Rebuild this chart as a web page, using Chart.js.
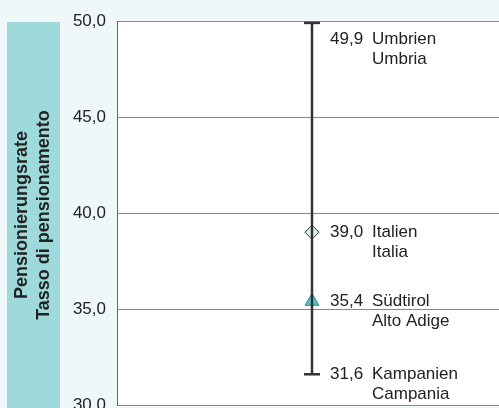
<!DOCTYPE html>
<html lang="de">
  <head>
    <meta charset="UTF-8" />
    <title>Pensionierungsrate</title>
    <script src="https://cdn.jsdelivr.net/npm/chart.js"></script>
    <style>
      html, body {
        margin: 0;
        padding: 0;
        background: #eff8f8;
      }
      #wrap {
        width: 499px;
        height: 408px;
      }
    </style>
  </head>
  <body>
    <div id="wrap"><canvas id="rateChart"></canvas></div>

    <script>
      // data
      const names = [['Umbrien', 'Umbria'], ['Italien', 'Italia'], ['Südtirol', 'Alto Adige'], ['Kampanien', 'Campania']];
      const values = [49.9, 39.0, 35.4, 31.6];
      const yTicks = [30, 35, 40, 45, 50];
      const axisTitle = ['Pensionierungsrate', 'Tasso di pensionamento'];

      const fmt = v => v.toFixed(1).replace('.', ',');
      const FONT = '"Liberation Sans", Arial, sans-serif';

      const backdrop = {
        id: 'backdrop',
        beforeDraw(chart) {
          const { ctx, chartArea: a } = chart;
          ctx.save();
          ctx.fillStyle = '#ffffff';
          ctx.fillRect(a.left, a.top, a.right - a.left, a.bottom - a.top);
          // teal title band
          ctx.fillStyle = '#9ed9dc';
          ctx.fillRect(7, 22, 53, chart.height - 22);
          ctx.translate(33, 215);
          ctx.rotate(-Math.PI / 2);
          ctx.fillStyle = '#222';
          ctx.font = 'bold 18px ' + FONT;
          ctx.textAlign = 'center';
          ctx.textBaseline = 'middle';
          ctx.fillText(axisTitle[0], 0, -11);
          ctx.fillText(axisTitle[1], 0, 11);
          ctx.restore();
        }
      };

      const pointLabels = {
        id: 'pointLabels',
        afterDatasetsDraw(chart) {
          const { ctx, chartArea: a, scales } = chart;
          ctx.save();
          ctx.fillStyle = '#222';
          ctx.font = '17px ' + FONT;
          ctx.textBaseline = 'middle';
          values.forEach((v, i) => {
            const x = scales.x.getPixelForValue(0);
            let y = scales.y.getPixelForValue(v);
            y = Math.max(y, a.top + 18);
            y = Math.min(y, a.bottom - 26);
            ctx.textAlign = 'left';
            ctx.fillText(fmt(v), x + 18, y);
            ctx.fillText(names[i][0], x + 60, y);
            ctx.fillText(names[i][1], x + 60, y + 20);
          });
          ctx.restore();
        }
      };

      const lo = Math.min(...values), hi = Math.max(...values);

      new Chart(document.getElementById('rateChart'), {
        type: 'scatter',
        data: {
          datasets: [
            {
              // range line with caps
              data: [{ x: 0, y: hi }, { x: 0, y: lo }],
              showLine: true,
              borderColor: '#333',
              borderWidth: 2.5,
              pointStyle: 'line',
              pointRadius: 8,
              pointBorderWidth: 2.5,
              pointBorderColor: '#333'
            },
            {
              data: [{ x: 0, y: values[1] }],
              pointStyle: 'rectRot',
              pointRadius: 7,
              backgroundColor: '#d6f1f1',
              borderColor: '#333',
              borderWidth: 1
            },
            {
              data: [{ x: 0, y: values[2] }],
              pointStyle: 'triangle',
              pointRadius: 8,
              backgroundColor: '#5bc3c8',
              borderColor: '#2f8f94',
              borderWidth: 1
            }
          ]
        },
        options: {
          responsive: true,
          maintainAspectRatio: false,
          animation: false,
          layout: { autoPadding: false, padding: { top: 21, right: 0, bottom: 3, left: 0 } },
          plugins: { legend: { display: false }, tooltip: { enabled: false } },
          scales: {
            x: {
              type: 'linear',
              min: -1,
              max: 0.959,
              display: false
            },
            y: {
              min: 30,
              max: 50,
              afterBuildTicks(scale) {
                scale.ticks = yTicks.map(v => ({ value: v }));
              },
              afterFit(scale) {
                scale.width = 117;
                scale.paddingTop = 0;
                scale.paddingBottom = 0;
              },
              ticks: {
                color: '#222',
                font: { family: FONT, size: 17 },
                padding: 11,
                callback: v => fmt(v)
              },
              grid: { color: '#8a8a8a', lineWidth: 1, drawTicks: false },
              border: { color: '#666', width: 1 }
            }
          }
        },
        plugins: [backdrop, pointLabels]
      });
    </script>
  </body>
</html>
